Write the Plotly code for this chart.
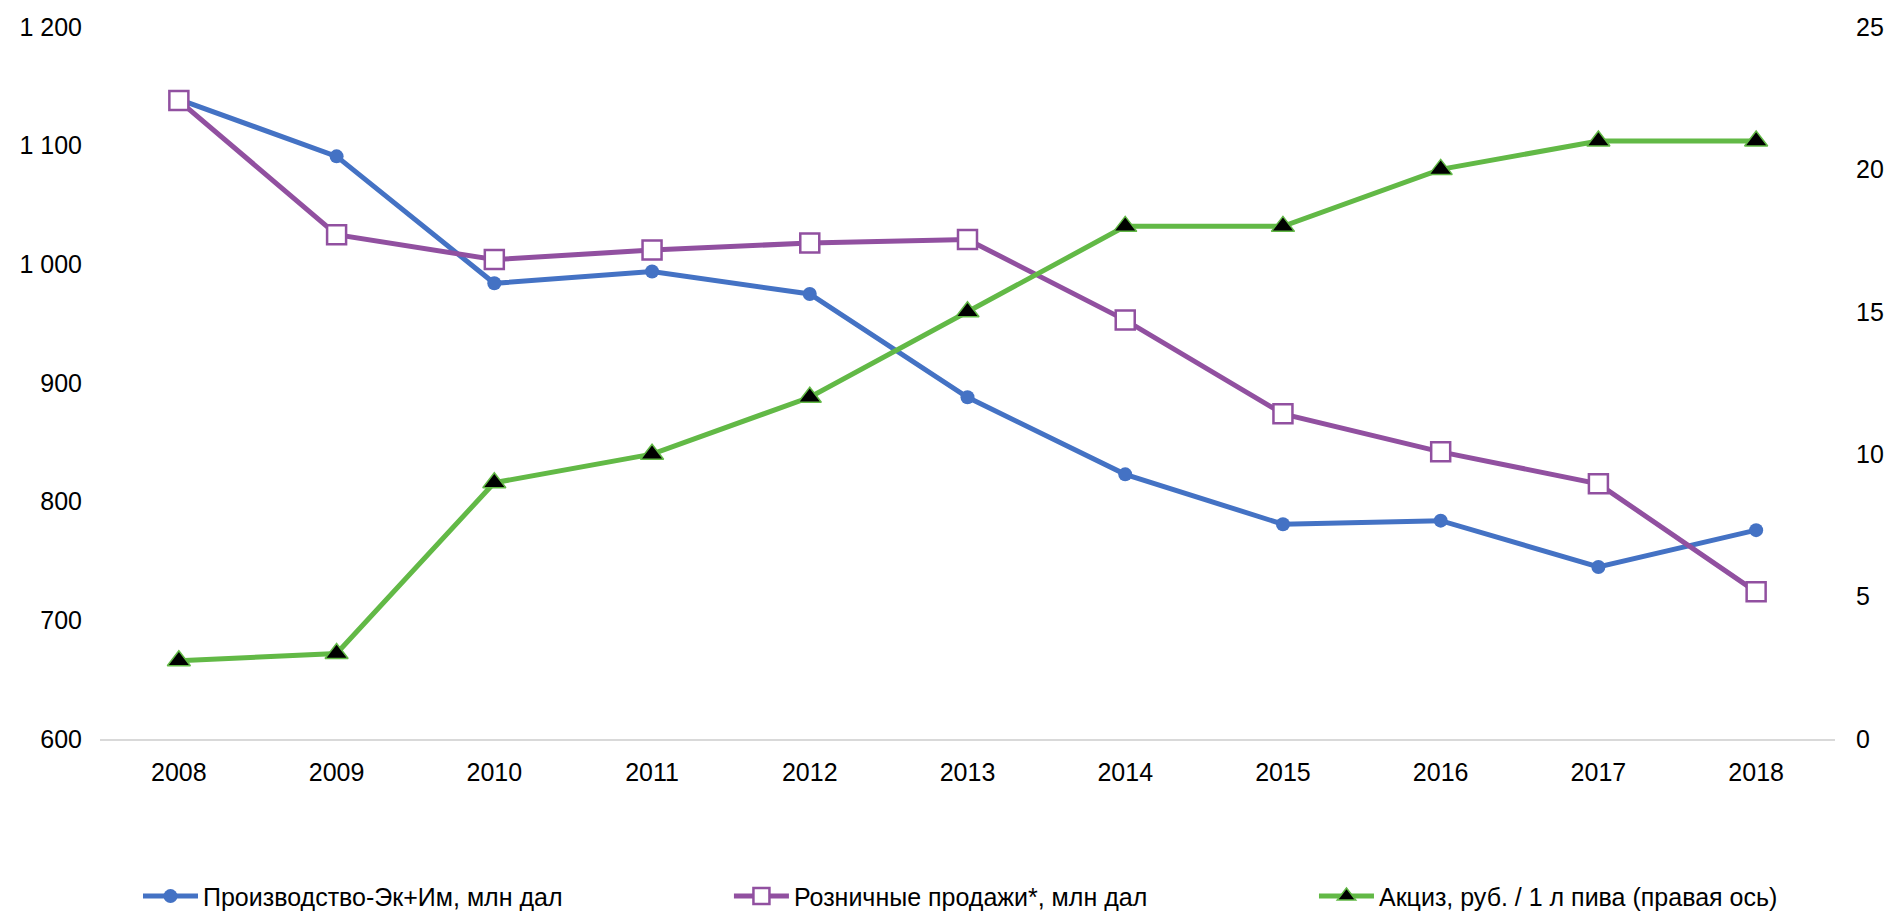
import plotly.graph_objects as go

years = ["2008", "2009", "2010", "2011", "2012", "2013", "2014", "2015", "2016", "2017", "2018"]
production = [1139, 1091, 984, 994, 975, 888, 823, 781, 784, 745, 776]
retail = [1138, 1025, 1004, 1012, 1018, 1021, 953, 874, 842, 815, 724]
excise = [2.75, 3, 9, 10, 12, 15, 18, 18, 20, 21, 21]

name_prod = "Производство-Эк+Им, млн дал"
name_retail = "Розничные продажи*, млн дал"
name_excise = "Акциз, руб. / 1 л пива (правая ось)"

BLUE = "#4472C4"
PURPLE = "#9150A0"
GREEN = "#62B946"

fig = go.Figure()

fig.add_trace(go.Scatter(
    x=years, y=production, name=name_prod, mode="lines+markers", legend="legend",
    line=dict(color=BLUE, width=5),
    marker=dict(symbol="circle", size=14, color=BLUE),
))
fig.add_trace(go.Scatter(
    x=years, y=retail, name=name_retail, mode="lines+markers", legend="legend2",
    line=dict(color=PURPLE, width=5),
    marker=dict(symbol="square", size=19, color="white", line=dict(color=PURPLE, width=2.5)),
))
fig.add_trace(go.Scatter(
    x=years, y=excise, name=name_excise, mode="lines+markers", yaxis="y2", legend="legend3",
    line=dict(color=GREEN, width=5),
    marker=dict(symbol="triangle-up", size=20, color="black", line=dict(color=GREEN, width=1.5)),
))

# legend boxes sit at the very bottom edge, so keep them from pushing the margin
leg = dict(orientation="h", xanchor="left", y=-0.221, yanchor="middle",
           itemwidth=55, font=dict(size=25), bgcolor="rgba(0,0,0,0)")

fig.update_layout(
    width=1893, height=914,
    margin=dict(l=100, r=58, t=27, b=175, autoexpand=False),
    paper_bgcolor="white", plot_bgcolor="white",
    font=dict(family="Liberation Sans, Arial, sans-serif", size=25, color="black"),
    separators=", ",
    showlegend=True,
    legend=dict(leg, x=0.0219),
    legend2=dict(leg, x=0.3625),
    legend3=dict(leg, x=0.6997),
    xaxis=dict(
        type="category", range=[-0.5, 10.5], automargin=False,
        showgrid=False, showline=True, linecolor="#d9d9d9", linewidth=2,
        ticks="", ticklabelstandoff=10, zeroline=False,
    ),
    yaxis=dict(
        range=[600, 1200], dtick=100, tickformat=",d", automargin=False,
        showgrid=False, zeroline=False, showline=False, ticks="",
        ticklabelstandoff=17,
    ),
    yaxis2=dict(
        range=[0, 25], dtick=5, overlaying="y", side="right", automargin=False,
        showgrid=False, zeroline=False, showline=False, ticks="",
        ticklabelstandoff=20,
    ),
)

fig.write_html("out.html", config={"displayModeBar": False},
               post_script="document.body.style.margin='0';")
